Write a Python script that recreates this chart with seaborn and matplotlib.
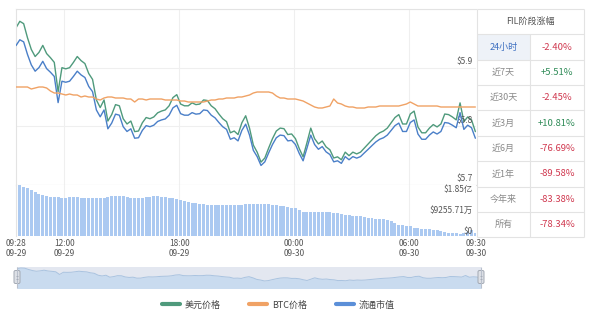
import matplotlib
matplotlib.use("Agg")
import numpy as np
import pandas as pd
import matplotlib.pyplot as plt
import matplotlib.transforms as mtrans
import seaborn as sns
from matplotlib.lines import Line2D
from matplotlib.patches import Rectangle, FancyBboxPatch

# ---------------- data ----------------
# minutes since 09-29 09:28 (12-minute samples)
minutes = list(range(0, 1441, 12))

usd_price = [
    5.968, 5.979, 5.975, 5.951, 5.931, 5.919, 5.926, 5.938, 5.924, 5.917,
    5.909, 5.859, 5.900, 5.898, 5.900, 5.909, 5.919, 5.912, 5.907, 5.890,
    5.880, 5.845, 5.832, 5.845, 5.809, 5.820, 5.837, 5.835, 5.813, 5.804,
    5.809, 5.791, 5.792, 5.806, 5.815, 5.813, 5.816, 5.823, 5.826, 5.828,
    5.835, 5.849, 5.854, 5.838, 5.835, 5.835, 5.840, 5.837, 5.838, 5.845,
    5.844, 5.835, 5.830, 5.821, 5.813, 5.808, 5.789, 5.792, 5.786, 5.806,
    5.818, 5.797, 5.768, 5.756, 5.739, 5.746, 5.763, 5.779, 5.792, 5.797,
    5.796, 5.786, 5.787, 5.779, 5.762, 5.748, 5.772, 5.797, 5.779, 5.770,
    5.775, 5.765, 5.760, 5.746, 5.748, 5.743, 5.756, 5.750, 5.756, 5.753,
    5.756, 5.763, 5.770, 5.777, 5.784, 5.789, 5.792, 5.797, 5.806, 5.815,
    5.820, 5.804, 5.804, 5.821, 5.826, 5.799, 5.789, 5.789, 5.797, 5.803,
    5.799, 5.804, 5.821, 5.820, 5.816, 5.811, 5.840, 5.808, 5.816, 5.811,
    5.791,
]

# circulating market cap, 亿 USD
market_cap = [
    26.856, 26.906, 26.888, 26.780, 26.690, 26.636, 26.667, 26.721, 26.658, 26.627,
    26.591, 26.366, 26.550, 26.541, 26.550, 26.591, 26.636, 26.604, 26.582, 26.505,
    26.460, 26.303, 26.244, 26.303, 26.141, 26.190, 26.267, 26.258, 26.159, 26.118,
    26.141, 26.060, 26.064, 26.127, 26.168, 26.159, 26.172, 26.204, 26.217, 26.226,
    26.258, 26.321, 26.343, 26.271, 26.258, 26.258, 26.280, 26.267, 26.271, 26.303,
    26.298, 26.258, 26.235, 26.195, 26.159, 26.136, 26.051, 26.064, 26.037, 26.127,
    26.181, 26.087, 25.956, 25.902, 25.826, 25.857, 25.934, 26.006, 26.064, 26.087,
    26.082, 26.037, 26.042, 26.006, 25.929, 25.866, 25.974, 26.087, 26.006, 25.965,
    25.988, 25.943, 25.920, 25.857, 25.866, 25.844, 25.902, 25.875, 25.902, 25.889,
    25.902, 25.934, 25.965, 25.997, 26.028, 26.051, 26.064, 26.087, 26.127, 26.168,
    26.190, 26.118, 26.118, 26.195, 26.217, 26.096, 26.051, 26.051, 26.087, 26.114,
    26.096, 26.118, 26.195, 26.190, 26.172, 26.150, 26.280, 26.136, 26.172, 26.150,
    26.060,
]

# FIL price in satoshi
btc_price_sats = [
    21600, 21600, 21600, 21600, 21580, 21590, 21600, 21600, 21590, 21560,
    21540, 21540, 21530, 21520, 21530, 21520, 21520, 21500, 21510, 21500,
    21500, 21480, 21470, 21490, 21500, 21500, 21490, 21490, 21490, 21480,
    21480, 21450, 21480, 21480, 21470, 21480, 21480, 21480, 21480, 21470,
    21470, 21470, 21470, 21460, 21460, 21450, 21450, 21450, 21450, 21450,
    21460, 21470, 21470, 21480, 21480, 21490, 21490, 21490, 21500, 21500,
    21510, 21520, 21540, 21550, 21550, 21550, 21550, 21540, 21510, 21490,
    21490, 21480, 21480, 21480, 21470, 21460, 21440, 21420, 21400, 21390,
    21390, 21400, 21410, 21480, 21440, 21430, 21410, 21400, 21400, 21390,
    21390, 21390, 21400, 21400, 21400, 21410, 21410, 21410, 21410, 21410,
    21410, 21420, 21430, 21450, 21430, 21410, 21410, 21410, 21410, 21410,
    21410, 21400, 21400, 21400, 21400, 21400, 21400, 21400, 21400, 21400,
    21400,
]

# traded volume, 万 USD
volume_wan = [
    18450, 18330, 17960, 17600, 16700, 15970, 15240, 14880, 14520, 14150,
    14150, 14150, 13970, 13970, 14150, 14150, 14150, 13970, 13970, 13970,
    13790, 13790, 13790, 13970, 14150, 14340, 14520, 14520, 14340, 14150,
    13970, 13790, 13790, 13970, 14150, 14150, 14340, 14340, 14150, 14150,
    13970, 13790, 13430, 13070, 12700, 12340, 11980, 11800, 11620, 11620,
    11430, 11430, 11250, 11250, 11250, 11250, 11250, 11250, 11430, 11430,
    11620, 11620, 11620, 11620, 11620, 11620, 11620, 11430, 11250, 11070,
    10890, 10530, 10340, 10160, 9440, 8710, 8710, 8710, 8710, 8710,
    8710, 8710, 8530, 8350, 8170, 7990, 7800, 7620, 7440, 7260,
    7080, 6900, 6710, 6530, 6350, 6170, 5990, 5810, 5440, 4720,
    4170, 3990, 3630, 3450, 3080, 2900, 2720, 2540, 2360, 2180,
    2000, 1820, 1450, 1270, 1090, 910, 730, 1090, 1450, 2000,
    1090,
]

xtick_minutes = [0, 152, 512, 872, 1232, 1442]
xtick_labels = ["09:28\n09-29", "12:00\n09-29", "18:00\n09-29",
                "00:00\n09-30", "06:00\n09-30", "09:30\n09-30"]
price_ticks = [5.9, 5.8, 5.7]
price_labels = [r"\$5.9", r"\$5.8", r"\$5.7"]
vol_ticks = [18511.42, 9255.71, 0]
vol_labels = [r"\$1.85亿", r"\$9255.71万", r"\$0"]
legend_labels = ["美元价格", "BTC价格", "流通市值"]
table_title = "FIL阶段涨幅"
periods = ["24小时", "近7天", "近30天", "近3月", "近6月", "近1年", "今年来", "所有"]
changes = ["-2.40%", "+5.51%", "-2.45%", "+10.81%", "-76.69%", "-89.58%", "-83.38%", "-78.34%"]

# ---------------- style ----------------
sns.set_theme(style="white")
plt.rcParams["font.family"] = ["Noto Sans CJK SC", "DejaVu Sans"]
plt.rcParams["axes.unicode_minus"] = False

GREEN = "#4f9a7c"
ORANGE = "#f0a265"
BLUE = "#4a7fc8"
BAR = "#abc9f1"
GRID = "#efefef"
BORDER = "#e3e3e3"
TXT = "#555555"

df = pd.DataFrame({"minute": minutes, "usd": usd_price, "cap": market_cap,
                   "btc": btc_price_sats, "vol": volume_wan})

W, H = 600, 315
fig = plt.figure(figsize=(6, 3.15), dpi=100)


def rect(x0, y0, x1, y1):
    return [x0 / W, 1 - y1 / H, (x1 - x0) / W, (y1 - y0) / H]


XMAX = 1442

# ---- main price panel ----
ax = fig.add_axes(rect(16, 9, 476, 185))
ax.set_xlim(0, XMAX)
ax.set_ylim(5.7, 6.0)
ax.set_yticks([5.7, 5.8, 5.9, 6.0])
ax.set_xticks(xtick_minutes[1:-1])
ax.grid(True, color=GRID, lw=0.8)
ax.tick_params(length=0, labelleft=False, labelbottom=False)
for s in ["right"]:
    ax.spines[s].set_visible(False)
for s in ["top", "left", "bottom"]:
    ax.spines[s].set_color(BORDER)
    ax.spines[s].set_linewidth(0.8)
sns.lineplot(data=df, x="minute", y="usd", ax=ax, color=GREEN, lw=1.0)
ax.set_xlabel("")
ax.set_ylabel("")
ax.set_xlim(0, XMAX)
ax.set_ylim(5.7, 6.0)
trans = mtrans.blended_transform_factory(ax.transAxes, ax.transData)
for v, lab in zip(price_ticks, price_labels):
    ax.text(0.9935, v + 0.003, lab, transform=trans, ha="right", va="bottom",
            fontsize=6, color=TXT)

axc = ax.twinx()
sns.lineplot(data=df, x="minute", y="cap", ax=axc, color=BLUE, lw=1.0)
axc.set_ylim(25.658, 27.1705)
axc.set_xlim(0, XMAX)
axc.axis("off")

axb = ax.twinx()
sns.lineplot(data=df, x="minute", y="btc", ax=axb, color=ORANGE, lw=1.0)
axb.set_ylim(20620, 22380)
axb.set_xlim(0, XMAX)
axb.axis("off")

# ---- volume panel ----
axv = fig.add_axes(rect(16, 185, 476, 236))
sns.barplot(data=df, x="minute", y="vol", ax=axv, native_scale=True,
            color=BAR, saturation=1, width=0.78, errorbar=None, linewidth=0)
axv.set_xlim(0, XMAX)
axv.set_ylim(0, 18511.42)
axv.set_yticks([9255.71])
axv.set_xticks(xtick_minutes)
axv.set_xticklabels(xtick_labels)
axv.grid(True, axis="x", color=GRID, lw=0.8)
axv.set_axisbelow(True)
axv.tick_params(axis="x", length=0, labelsize=6, colors=TXT, pad=2)
axv.tick_params(axis="y", length=0, labelleft=False)
for lab in axv.get_xticklabels():
    lab.set_linespacing(1.15)
axv.set_xlabel("")
axv.set_ylabel("")
for s in ["top", "right", "bottom"]:
    axv.spines[s].set_visible(False)
axv.spines["left"].set_color(BORDER)
axv.spines["left"].set_linewidth(0.8)
transv = mtrans.blended_transform_factory(axv.transAxes, axv.transData)
for v, lab, va in zip(vol_ticks, vol_labels, ["top", "center", "bottom"]):
    axv.text(0.9935, v, lab, transform=transv, ha="right", va=va,
             fontsize=6, color=TXT)

# ---- slider ----
axs = fig.add_axes(rect(17, 267, 481, 288))
axs.set_facecolor("#e3e7f0")
axs.fill_between(df["minute"], df["usd"], 5.55, color="#c9dbef", lw=0)
sns.lineplot(data=df, x="minute", y="usd", ax=axs, color="#a9c3e0", lw=0.7)
axs.set_xlim(0, 1440)
axs.set_ylim(5.609, 5.997)
axs.set_xticks([])
axs.set_yticks([])
axs.set_xlabel("")
axs.set_ylabel("")
for s in axs.spines.values():
    s.set_visible(False)

# ---- overlay: table, slider handles ----
ov = fig.add_axes([0, 0, 1, 1])
ov.set_xlim(0, W)
ov.set_ylim(H, 0)
ov.axis("off")
ov.patch.set_alpha(0)

for hx in (17, 481):
    ov.vlines(hx, 267, 288, color="#b9c0cc", lw=0.8)
    ov.add_patch(FancyBboxPatch((hx - 2.5, 271), 5, 12, boxstyle="round,pad=0.5,rounding_size=1.5",
                                fc="#dde0e6", ec="#a3a9b3", lw=0.7))
    ov.hlines([275.5, 278.5], hx - 1.3, hx + 1.3, color="#a3a9b3", lw=0.6)

xl, xm, xr = 477, 530, 584
rows = [9, 34, 60, 85, 110, 136, 161, 187, 212, 237]
ov.add_patch(Rectangle((xl, rows[1]), xm - xl, rows[2] - rows[1], fc="#eef2f8", ec="none"))
ov.hlines(rows, xl, xr, color=BORDER, lw=0.8)
ov.vlines([xl, xr], rows[0], rows[-1], color=BORDER, lw=0.8)
ov.vlines(xm, rows[1], rows[-1], color=BORDER, lw=0.8)
ov.text((xl + xr) / 2, (rows[0] + rows[1]) / 2, table_title, ha="center", va="center",
        fontsize=6.5, color=TXT)
for i, (p, c) in enumerate(zip(periods, changes)):
    yc = (rows[i + 1] + rows[i + 2]) / 2
    ov.text((xl + xm) / 2, yc, p, ha="center", va="center", fontsize=6.5,
            color="#3d6fc0" if i == 0 else "#8a8a8a")
    ov.text((xm + xr) / 2, yc, c, ha="center", va="center", fontsize=6.8,
            color="#2e8b57" if c.startswith("+") else "#d0384f")

# ---- legend ----
handles = [Line2D([], [], color=GREEN, lw=3), Line2D([], [], color=ORANGE, lw=3),
           Line2D([], [], color="#5b8fd8", lw=3)]
fig.legend(handles=handles, labels=legend_labels, loc="center",
           bbox_to_anchor=(278 / W, 1 - 305 / H), ncol=3, frameon=False,
           fontsize=6.5, handlelength=2.0, handletextpad=0.5, columnspacing=3.2,
           labelcolor="#444444")

fig.savefig("out.png", dpi=100)
